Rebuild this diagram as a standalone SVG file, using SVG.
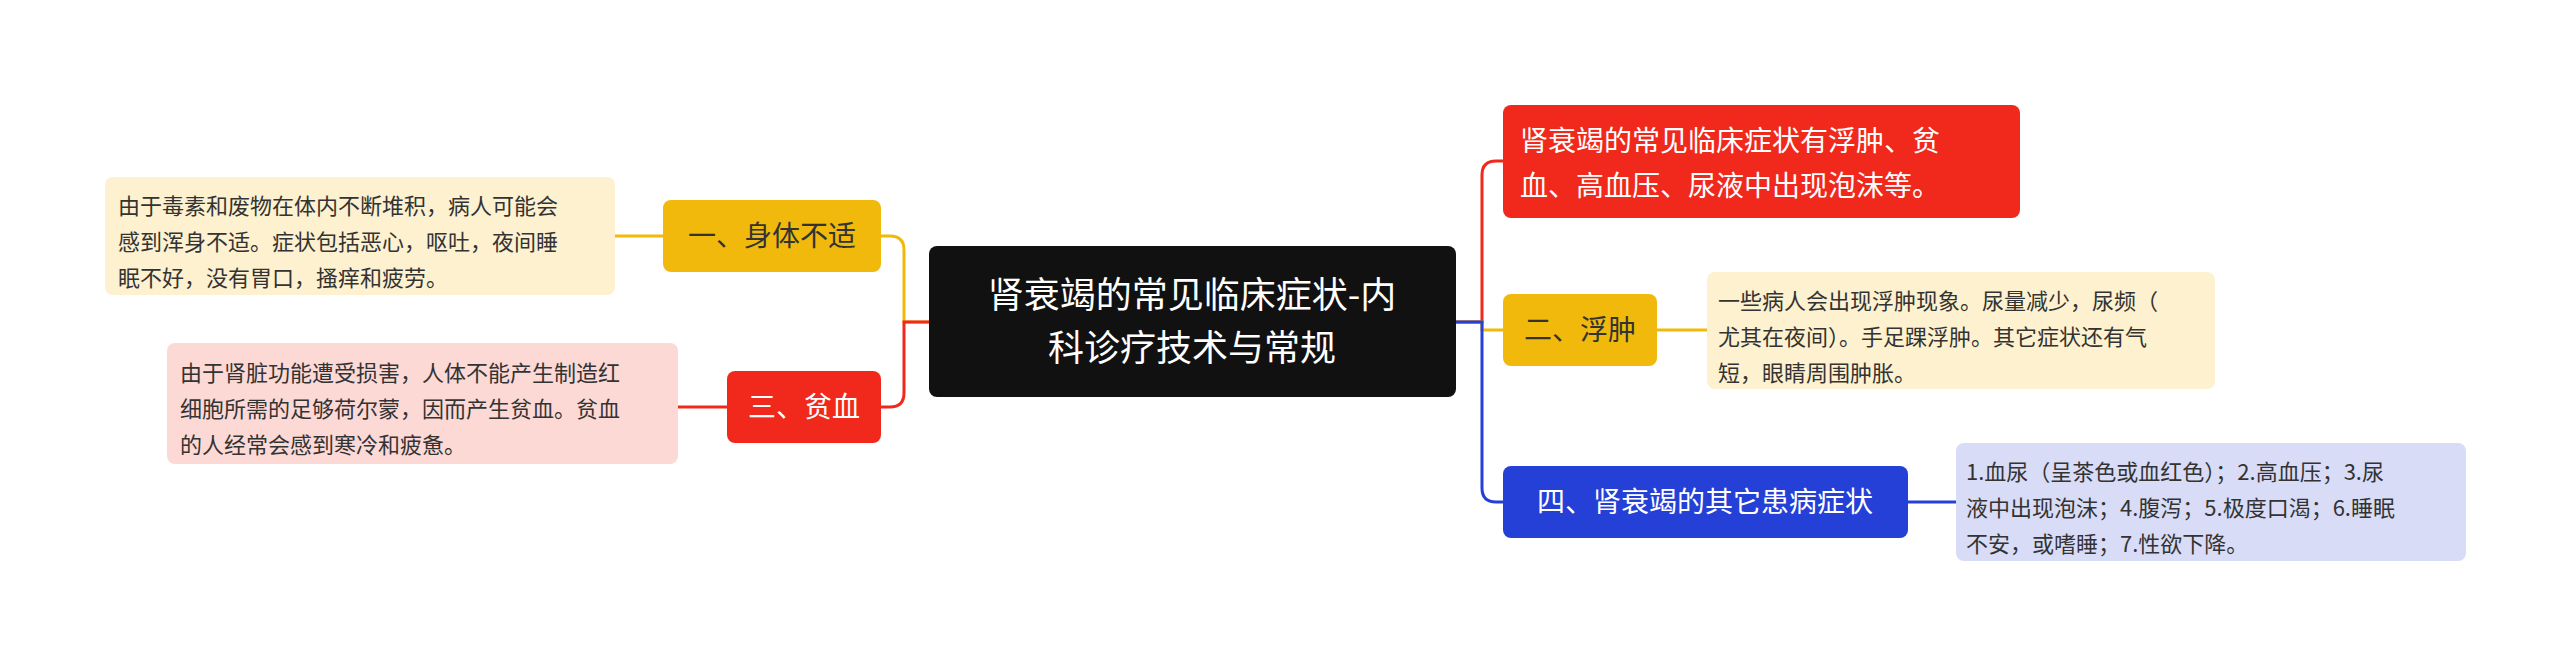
<svg xmlns="http://www.w3.org/2000/svg" width="2560" height="663" viewBox="0 0 2560 663">
<style>
text{font-family:"Noto Sans CJK SC","Liberation Sans",sans-serif}
.n{font-size:28px;fill:#fff}
.d{font-size:22px;fill:#333}
.c{fill:none;stroke-width:3}
</style>
<rect width="2560" height="663" fill="#fff"/>
<g id="connectors">
<path class="c" stroke="#f0b90b" d="M929 322H904V250Q904 236 890 236H881"/>
<path class="c" stroke="#f0291c" d="M929 322H904V393Q904 407 890 407H881"/>
<path class="c" stroke="#f0291c" d="M1456 322H1482V175Q1482 161 1496 161H1503"/>
<path class="c" stroke="#f0b90b" d="M1456 322H1482V330H1503"/>
<path class="c" stroke="#2540d6" d="M1456 322H1482V488Q1482 502 1496 502H1503"/>
<path class="c" stroke="#f0b90b" d="M615 236H663"/>
<path class="c" stroke="#f0291c" d="M678 407H727"/>
<path class="c" stroke="#f0b90b" d="M1657 330H1707"/>
<path class="c" stroke="#2540d6" d="M1908 502H1956"/>
</g>
<g id="center"><rect x="929" y="246" width="527" height="151" rx="8" fill="#111"/>
<text x="1192" y="308" text-anchor="middle" font-size="36" fill="#fff">肾衰竭的常见临床症状-内</text>
<text x="1192" y="361" text-anchor="middle" font-size="36" fill="#fff">科诊疗技术与常规</text></g>
<g id="n1"><rect x="663" y="200" width="218" height="72" rx="8" fill="#f0b90b"/><text class="n" x="772" y="246" text-anchor="middle" fill="#333" style="fill:#333">一、身体不适</text></g>
<g id="d1"><rect x="105" y="177" width="510" height="118" rx="8" fill="#fdf1cf"/>
<text class="d" x="118" y="214">由于毒素和废物在体内不断堆积，病人可能会</text>
<text class="d" x="118" y="250">感到浑身不适。症状包括恶心，呕吐，夜间睡</text>
<text class="d" x="118" y="286">眠不好，没有胃口，搔痒和疲劳。</text></g>
<g id="n3"><rect x="727" y="371" width="154" height="72" rx="8" fill="#f0291c"/><text class="n" x="804" y="417" text-anchor="middle">三、贫血</text></g>
<g id="d3"><rect x="167" y="343" width="511" height="121" rx="8" fill="#fdd9d6"/>
<text class="d" x="180" y="381">由于肾脏功能遭受损害，人体不能产生制造红</text>
<text class="d" x="180" y="417">细胞所需的足够荷尔蒙，因而产生贫血。贫血</text>
<text class="d" x="180" y="453">的人经常会感到寒冷和疲惫。</text></g>
<g id="r1"><rect x="1503" y="105" width="517" height="113" rx="8" fill="#f0291c"/>
<text class="n" x="1520" y="151">肾衰竭的常见临床症状有浮肿、贫</text>
<text class="n" x="1520" y="196">血、高血压、尿液中出现泡沫等。</text></g>
<g id="n2"><rect x="1503" y="294" width="154" height="72" rx="8" fill="#f0b90b"/><text class="n" x="1580" y="340" text-anchor="middle" style="fill:#333">二、浮肿</text></g>
<g id="d2"><rect x="1707" y="272" width="508" height="117" rx="8" fill="#fdf1cf"/>
<text class="d" x="1718" y="309">一些病人会出现浮肿现象。尿量减少，尿频（</text>
<text class="d" x="1718" y="345">尤其在夜间）。手足踝浮肿。其它症状还有气</text>
<text class="d" x="1718" y="381">短，眼睛周围肿胀。</text></g>
<g id="n4"><rect x="1503" y="466" width="405" height="72" rx="8" fill="#2540d6"/><text class="n" x="1705" y="512" text-anchor="middle">四、肾衰竭的其它患病症状</text></g>
<g id="d4"><rect x="1956" y="443" width="510" height="118" rx="8" fill="#d8dcf7"/>
<text class="d" x="1966" y="480">1.血尿（呈茶色或血红色）；2.高血压；3.尿</text>
<text class="d" x="1966" y="516">液中出现泡沫；4.腹泻；5.极度口渴；6.睡眠</text>
<text class="d" x="1966" y="552">不安，或嗜睡；7.性欲下降。</text></g>
</svg>
